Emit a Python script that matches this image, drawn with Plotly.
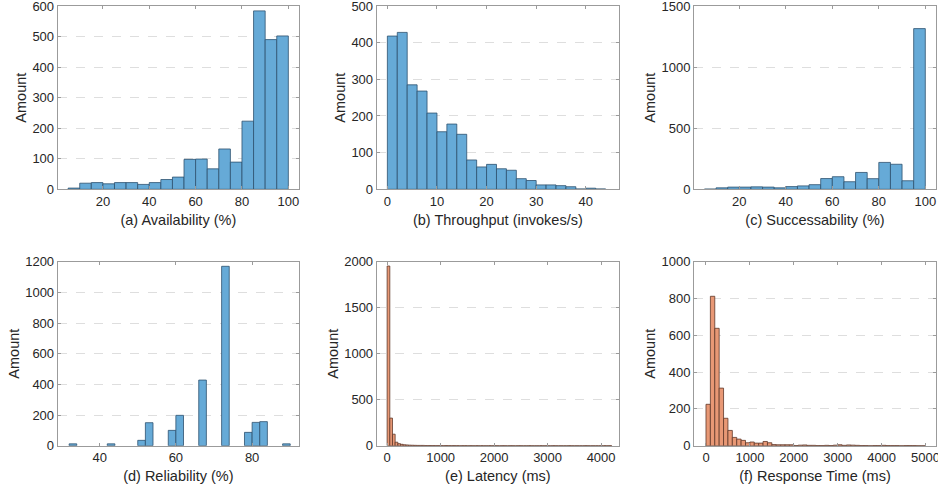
import numpy as np
import plotly.graph_objects as go

W, H = 938, 488

# ---------------- data ----------------
# (a) Availability (%), bins of 5 starting at 5
avail_edges = list(range(5, 100, 5))
avail_counts = [4, 20, 22, 18, 22, 22, 16, 22, 32, 40, 98, 99, 67, 132, 89, 223, 584, 490, 502]

# (b) Throughput (invokes/s), bins of 2 starting at 0
thr_edges = list(range(0, 44, 2))
thr_counts = [418, 428, 285, 268, 208, 157, 178, 150, 80, 61, 68, 56, 52, 29, 24, 12, 12, 10, 7, 1, 3, 1]

# (c) Successability (%), bins of 5 starting at 5
succ_edges = list(range(5, 100, 5))
succ_counts = [2, 12, 18, 18, 20, 18, 12, 22, 28, 38, 88, 103, 62, 138, 87, 220, 205, 70, 1315]

# (d) Reliability (%), bins of 2 (only non-empty bins)
rel_edges = [32, 42, 50, 52, 58, 60, 66, 72, 78, 80, 82, 88]
rel_counts = [12, 12, 35, 150, 100, 198, 428, 1170, 87, 152, 157, 12]

# (e) Latency (ms), bins of 50 starting at 0
lat_edges = list(range(0, 4200, 50))
lat_counts = [1953, 300, 125, 38, 22, 15, 10, 8, 6, 5,
              4, 3, 3, 3, 2, 2, 2, 2, 1, 1,
              1, 1, 2, 1, 1, 1, 1, 0, 1, 1,
              0, 1, 0, 1, 0, 1, 0, 0, 1, 0,
              1, 0, 0, 1, 0, 0, 1, 0, 0, 1,
              0, 0, 0, 1, 0, 0, 0, 1, 0, 0,
              0, 0, 1, 0, 0, 0, 0, 0, 1, 0,
              0, 0, 0, 0, 1, 0, 0, 0, 0, 0,
              0, 1, 0, 1]

# (f) Response Time (ms), bins of 100 starting at 0
rt_edges = list(range(0, 5000, 100))
rt_counts = [225, 812, 638, 313, 149, 83, 45, 36, 29, 16,
             20, 14, 14, 23, 16, 6, 5, 5, 5, 5,
             1, 3, 4, 2, 2, 1, 1, 2, 1, 3,
             5, 2, 4, 3, 2, 1, 1, 0, 1, 1,
             2, 1, 1, 1, 0, 1, 1, 1, 0, 0]

x_titles = ["(a) Availability (%)", "(b) Throughput (invokes/s)", "(c) Successability (%)",
            "(d) Reliability (%)", "(e) Latency (ms)", "(f) Response Time (ms)"]
y_title = "Amount"

# ---------------- layout / style ----------------
BLUE = "rgb(102,170,215)"
BLUE_EDGE = "rgb(45,80,110)"
ORANGE = "rgb(232,152,117)"
ORANGE_EDGE = "rgb(95,55,40)"
TXT = "rgb(38,38,38)"
AX = "rgb(155,155,155)"
FONT = "Liberation Sans, Arial, Helvetica, sans-serif"

panels = [
    dict(edges=avail_edges, counts=avail_counts, w=5, color=BLUE, edge=BLUE_EDGE,
         xr=[0.5, 104.6], xd=20, yr=[0, 600], yd=100),
    dict(edges=thr_edges, counts=thr_counts, w=2, color=BLUE, edge=BLUE_EDGE,
         xr=[-2.15, 46.7], xd=10, yr=[0, 500], yd=100),
    dict(edges=succ_edges, counts=succ_counts, w=5, color=BLUE, edge=BLUE_EDGE,
         xr=[0.5, 104.6], xd=20, yr=[0, 1500], yd=500),
    dict(edges=rel_edges, counts=rel_counts, w=2, color=BLUE, edge=BLUE_EDGE,
         xr=[29.0, 92.3], xd=20, yr=[0, 1200], yd=200),
    dict(edges=lat_edges, counts=lat_counts, w=50, color=ORANGE, edge=ORANGE_EDGE,
         xr=[-195, 4335], xd=1000, yr=[0, 2000], yd=500),
    dict(edges=rt_edges, counts=rt_counts, w=100, color=ORANGE, edge=ORANGE_EDGE,
         xr=[-273, 5239], xd=1000, yr=[0, 1000], yd=200),
]

# pixel boxes of the six axes (left, right, top, bottom)
col_px = [(57.7, 299.0), (376.7, 619.0), (694.0, 936.0)]
row_px = [(6.0, 189.3), (261.7, 445.7)]

fig = go.Figure()
layout = dict(
    width=W, height=H,
    margin=dict(l=0, r=0, t=0, b=0, autoexpand=False),
    paper_bgcolor="white", plot_bgcolor="white",
    font=dict(family=FONT, size=13, color=TXT),
    showlegend=False,
)

for i, p in enumerate(panels):
    r, c = divmod(i, 3)
    n = i + 1
    xa = "x" if n == 1 else f"x{n}"
    ya = "y" if n == 1 else f"y{n}"
    fig.add_trace(go.Bar(
        x=p["edges"], y=p["counts"], width=p["w"], offset=0,
        marker=dict(color=p["color"], line=dict(color=p["edge"], width=0.8)),
        xaxis=xa, yaxis=ya, hoverinfo="x+y",
    ))
    l, rr = col_px[c]
    t, b = row_px[r]
    xkey = "xaxis" if n == 1 else f"xaxis{n}"
    ykey = "yaxis" if n == 1 else f"yaxis{n}"
    layout[xkey] = dict(
        domain=[l / W, rr / W], anchor=ya, range=p["xr"], dtick=p["xd"], tick0=0,
        showline=True, linecolor=AX, linewidth=1, mirror="ticks",
        ticks="inside", ticklen=3, tickcolor=AX, showgrid=False, zeroline=False,
        automargin=False, ticklabeloverflow="allow",
        tickfont=dict(size=13, color=TXT),
        title=dict(text=x_titles[i], font=dict(size=14.5, color=TXT), standoff=6),
    )
    layout[ykey] = dict(
        domain=[1 - b / H, 1 - t / H], anchor=xa, range=p["yr"], dtick=p["yd"], tick0=0,
        showline=True, linecolor=AX, linewidth=1, mirror="ticks",
        ticks="inside", ticklen=3, tickcolor=AX,
        showgrid=True, gridcolor="rgb(222,222,222)", griddash="dash", gridwidth=1,
        zeroline=False, automargin=False, ticklabeloverflow="allow",
        tickfont=dict(size=13, color=TXT),
        title=dict(text=y_title, font=dict(size=14.5, color=TXT), standoff=2),
    )

fig.update_layout(**layout)
fig.write_html("out.html", config={"displayModeBar": False},
               post_script="document.body.style.margin='0';document.body.style.overflow='hidden';")
